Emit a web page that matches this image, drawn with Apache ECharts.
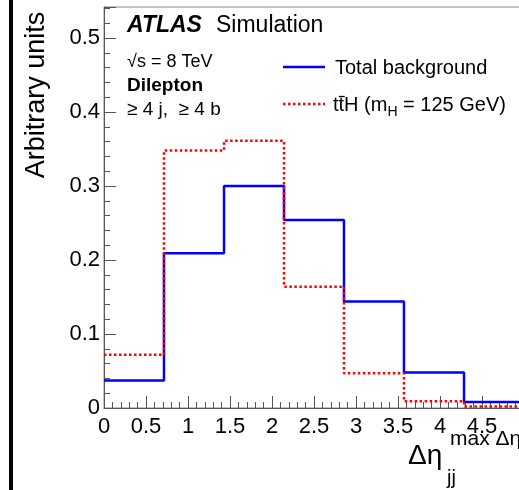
<!DOCTYPE html>
<html>
<head>
<meta charset="utf-8">
<script src="https://cdn.jsdelivr.net/npm/echarts@6/dist/echarts.min.js"></script>
<style>
  html, body { margin: 0; padding: 0; background: #fff; }
</style>
</head>
<body>
<div id="chart" style="width: 519px; height: 490px"></div>
<script>
// bin edges of the Δη histogram (7 equal bins from 0 to 5)
var binEdges = [0, 0.714, 1.429, 2.143, 2.857, 3.571, 4.286, 5];
var bkgValues = [0.037, 0.209, 0.300, 0.254, 0.144, 0.048, 0.008];
var tthValues = [0.072, 0.348, 0.361, 0.164, 0.047, 0.009, 0.002];
var xTicks = [0, 0.5, 1, 1.5, 2, 2.5, 3, 3.5, 4, 4.5, 5];
var yTicks = [0, 0.1, 0.2, 0.3, 0.4, 0.5];

var font = '"Liberation Sans", Arial, sans-serif';

// step points: value of each bin starts at its left edge, last point closes the bin
function stepPoints(vals) {
  var pts = [];
  for (var i = 0; i < vals.length; i++) pts.push([binEdges[i], vals[i]]);
  pts.push([binEdges[binEdges.length - 1], vals[vals.length - 1]]);
  return pts;
}

var myChart = echarts.init(document.getElementById("chart"));

var option = {
  backgroundColor: "#fff",
  animation: false,
  grid: {
    left: 104,
    top: 7,
    width: 420,
    height: 401,
    outerBoundsMode: "none",
    containLabel: false,
    show: true,
    borderColor: "#888",
    borderWidth: 1,
    backgroundColor: "transparent",
  },
  xAxis: {
    type: "value",
    min: xTicks[0],
    max: xTicks[xTicks.length - 1],
    interval: 0.5,
    axisLine: { onZero: false, lineStyle: { color: "#555", width: 1 } },
    axisTick: { inside: true, length: 12, lineStyle: { color: "#555" } },
    minorTick: { show: true, splitNumber: 5, length: 6, lineStyle: { color: "#555" } },
    splitLine: { show: false },
    axisLabel: {
      color: "#000",
      fontFamily: font,
      fontSize: 22,
      margin: 8,
      showMaxLabel: true,
    },
  },
  yAxis: {
    type: "value",
    min: yTicks[0],
    max: 0.5419,
    interval: 0.1,
    axisLine: { show: true, lineStyle: { color: "#555", width: 1 } },
    axisTick: { show: true, inside: true, length: 12, lineStyle: { color: "#555" } },
    minorTick: { show: true, splitNumber: 5, length: 6, lineStyle: { color: "#555" } },
    splitLine: { show: false },
    axisLabel: {
      color: "#000",
      fontFamily: font,
      fontSize: 22,
      margin: 4,
      showMaxLabel: false,
    },
  },
  series: [
    {
      name: "Total background",
      type: "line",
      step: "end",
      symbol: "none",
      data: stepPoints(bkgValues),
      lineStyle: { color: "#0000ff", width: 2.5 },
      z: 3,
    },
    {
      name: "ttH",
      type: "line",
      step: "end",
      symbol: "none",
      data: stepPoints(tthValues),
      lineStyle: { color: "#ff0000", width: 2.5, type: [2.5, 2.5] },
      z: 4,
    },
  ],
  graphic: [
    // frame edge at the far left of the picture
    { type: "rect", shape: { x: 9, y: 0, width: 4, height: 490 }, style: { fill: "#000" } },
    {
      type: "text", rotation: Math.PI / 2, x: 37, y: 95,
      style: { text: "Arbitrary units", font: "27px " + font, fill: "#000", align: "center", verticalAlign: "middle" },
    },
    {
      type: "text", x: 127, y: 26,
      style: { text: "ATLAS", font: "italic bold 23px " + font, fill: "#000", verticalAlign: "middle" },
    },
    {
      type: "text", x: 216, y: 26,
      style: { text: "Simulation", font: "23px " + font, fill: "#000", verticalAlign: "middle" },
    },
    {
      type: "text", x: 127, y: 62,
      style: { text: "\u221As = 8 TeV", font: "18px " + font, fill: "#000", verticalAlign: "middle" },
    },
    {
      type: "text", x: 127, y: 86,
      style: { text: "Dilepton", font: "bold 19px " + font, fill: "#000", verticalAlign: "middle" },
    },
    {
      type: "text", x: 127, y: 110,
      style: { text: "\u2265 4 j,  \u2265 4 b", font: "19px " + font, fill: "#000", verticalAlign: "middle" },
    },
    // legend
    { type: "line", shape: { x1: 283, y1: 67, x2: 325, y2: 67 }, style: { stroke: "#0000ff", lineWidth: 2.5 } },
    {
      type: "text", x: 335, y: 68,
      style: { text: "Total background", font: "20px " + font, fill: "#000", verticalAlign: "middle" },
    },
    { type: "line", shape: { x1: 283, y1: 104, x2: 325, y2: 104 }, style: { stroke: "#ff0000", lineWidth: 2.5, lineDash: [2.5, 2.5] } },
    {
      type: "text", x: 333, y: 105,
      style: {
        text: "{n|ttH (m}{s|H}{n| = 125 GeV)}",
        verticalAlign: "middle",
        rich: {
          n: { font: "20px " + font, fill: "#000" },
          s: { font: "14px " + font, fill: "#000", padding: [14, 0, 0, 0] },
        },
      },
    },
    // bar over the second t
    { type: "line", shape: { x1: 338.8, y1: 96.5, x2: 344.8, y2: 96.5 }, style: { stroke: "#000", lineWidth: 1.3 } },
    // x-axis title
    {
      type: "text", x: 408, y: 456,
      style: { text: "\u0394\u03B7", font: "28px " + font, fill: "#000", verticalAlign: "middle" },
    },
    {
      type: "text", x: 447, y: 478,
      style: { text: "jj", font: "20px " + font, fill: "#000", verticalAlign: "middle" },
    },
    {
      type: "text", x: 450, y: 439,
      style: { text: "max \u0394\u03B7", font: "21px " + font, fill: "#000", verticalAlign: "middle" },
    },
  ],
};

myChart.setOption(option);
window.onresize = function () {
  myChart.resize();
};
</script>
</body>
</html>
